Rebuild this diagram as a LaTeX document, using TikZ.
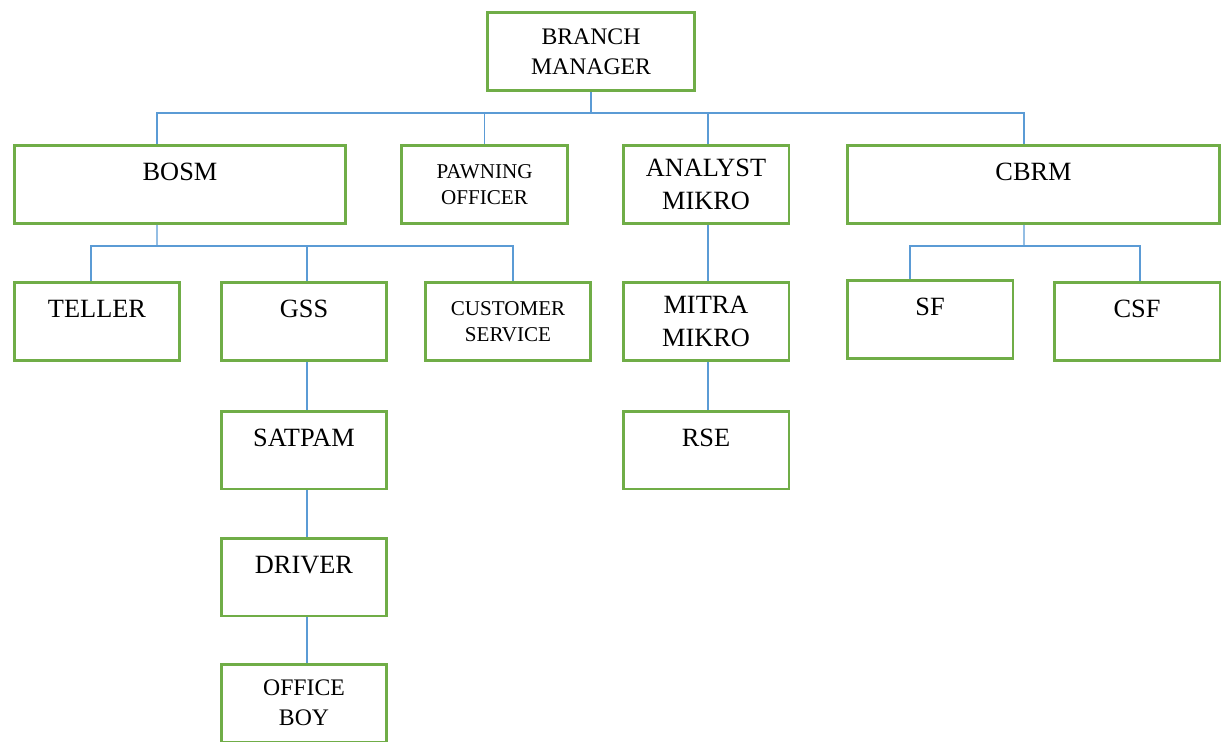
\documentclass[tikz,border=0pt]{standalone}
\usepackage{fontspec}
\setmainfont{Liberation Serif}
\definecolor{boxgreen}{HTML}{70AD47}
\definecolor{linkblue}{HTML}{5B9BD5}
\begin{document}
\begin{tikzpicture}[x=0.02cm, y=-0.02cm,
    unit/.style={draw=boxgreen, line width=1.7pt, rectangle, align=center,
      minimum width=3.32cm, minimum height=1.56cm, inner sep=0pt,
      font=\fontsize{15}{19}\selectfont},
    wide/.style={minimum width=6.64cm},
    oneline/.style={text depth=14pt},
    smalltext/.style={font=\fontsize{12}{14.7}\selectfont},
    midtext/.style={font=\fontsize{13.5}{17}\selectfont},
    link/.style={draw=linkblue, line width=0.6pt}]
  \useasboundingbox (0,0) rectangle (1227,741);

  % top
  \node[unit, midtext, minimum width=4.16cm] (bm) at (591,51.5) {BRANCH\\MANAGER};

  % second row
  \node[unit, wide, oneline] (bosm) at (180,184.5) {BOSM};
  \node[unit, smalltext] (pawn) at (484.5,184.5) {PAWNING\\OFFICER};
  \node[unit] (analyst) at (706,184.5) {ANALYST\\MIKRO};
  \node[unit, oneline, minimum width=7.46cm] (cbrm) at (1033.5,184.5) {CBRM};

  % third row
  \node[unit, oneline] (teller) at (97,321.5) {TELLER};
  \node[unit, oneline] (gss) at (304,321.5) {GSS};
  \node[unit, smalltext] (cust) at (508,321.5) {CUSTOMER\\SERVICE};
  \node[unit] (mitra) at (706,321.5) {MITRA\\MIKRO};
  \node[unit, oneline] (sf) at (930,319.5) {SF};
  \node[unit, oneline] (csf) at (1137,321.5) {CSF};

  % lower chains
  \node[unit, oneline] (satpam) at (304,450) {SATPAM};
  \node[unit, oneline] (rse) at (706,450) {RSE};
  \node[unit, oneline] (driver) at (304,577) {DRIVER};
  \node[unit, midtext] (office) at (304,703) {OFFICE\\BOY};

  % buses
  \coordinate (b1) at (591,113);
  \coordinate (b2) at (157,246);
  \coordinate (b3) at (1024,246);

  \draw[link] (bm) -- (b1);
  \draw[link] (b1) -| ([xshift=-0.46cm]bosm.north);
  \draw[link] (b1) -| (pawn.north);
  \draw[link] (b1) -| ([xshift=0.04cm]analyst.north);
  \draw[link] (b1) -| ([xshift=-0.19cm]cbrm.north);

  \draw[link] ([xshift=-0.46cm]bosm.south) -- (b2);
  \draw[link] (b2) -| ([xshift=-0.12cm]teller.north);
  \draw[link] (b2) -| ([xshift=0.06cm]gss.north);
  \draw[link] (b2) -| ([xshift=0.1cm]cust.north);

  \draw[link] ([xshift=-0.19cm]cbrm.south) -- (b3);
  \draw[link] (b3) -| ([xshift=-0.4cm]sf.north);
  \draw[link] (b3) -| ([xshift=0.06cm]csf.north);

  \draw[link] ([xshift=0.06cm]gss.south) -- ([xshift=0.06cm]satpam.north);
  \draw[link] ([xshift=0.06cm]satpam.south) -- ([xshift=0.06cm]driver.north);
  \draw[link] ([xshift=0.06cm]driver.south) -- ([xshift=0.06cm]office.north);
  \draw[link] ([xshift=0.04cm]analyst.south) -- ([xshift=0.04cm]mitra.north);
  \draw[link] ([xshift=0.04cm]mitra.south) -- ([xshift=0.04cm]rse.north);
\end{tikzpicture}
\end{document}
